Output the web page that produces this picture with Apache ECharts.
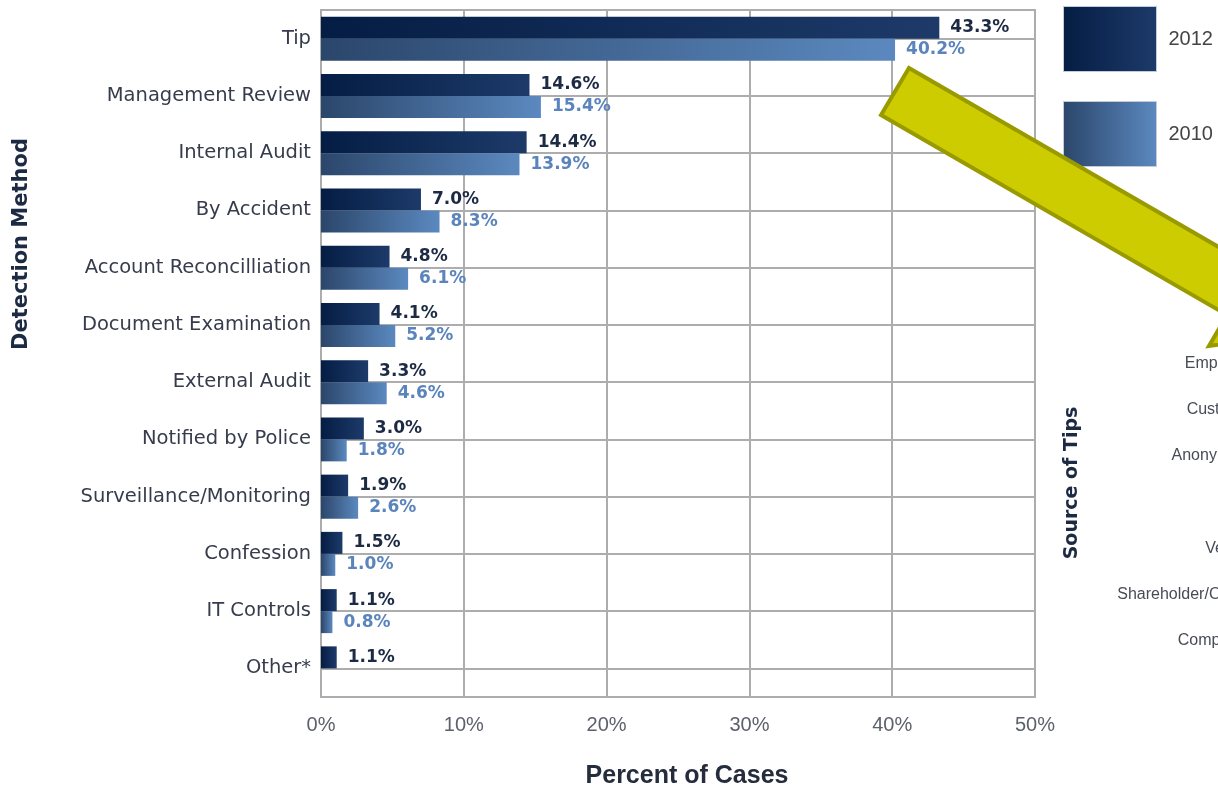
<!DOCTYPE html>
<html>
<head>
<meta charset="utf-8">
<script src="https://cdn.jsdelivr.net/npm/echarts@6/dist/echarts.min.js"></script>
<style>
  html, body { margin: 0; padding: 0; background: #fff; }
  #main { width: 1218px; height: 789px; }
</style>
</head>
<body>
<div id="main"></div>
<script>
// detection methods, top to bottom
var methods = ['Tip', 'Management Review', 'Internal Audit', 'By Accident',
  'Account Reconcilliation', 'Document Examination', 'External Audit',
  'Notified by Police', 'Surveillance/Monitoring', 'Confession', 'IT Controls', 'Other*'];
var cases2012 = [43.3, 14.6, 14.4, 7.0, 4.8, 4.1, 3.3, 3.0, 1.9, 1.5, 1.1, 1.1];
var cases2010 = [40.2, 15.4, 13.9, 8.3, 6.1, 5.2, 4.6, 1.8, 2.6, 1.0, 0.8, null];
// labels of the next chart, cut off at the right edge
var tipSources = ['Employee', 'Customer', 'Anonymous', '', 'Vendor', 'Shareholder/Owner', 'Competitor'];

var chart = echarts.init(document.getElementById('main'));

var dark = new echarts.graphic.LinearGradient(0, 0, 1, 0, [
  { offset: 0, color: '#041d44' }, { offset: 1, color: '#1d3a69' }
]);
var light = new echarts.graphic.LinearGradient(0, 0, 1, 0, [
  { offset: 0, color: '#2b466b' }, { offset: 1, color: '#5b89bf' }
]);

function pct(p) { return p.value.toFixed(1) + '%'; }

var option = {
  backgroundColor: '#ffffff',
  animation: false,
  legend: {
    data: ['2012', '2010'],
    orient: 'vertical',
    left: 1063,
    top: 6,
    padding: 0,
    icon: 'rect',
    itemWidth: 93,
    itemHeight: 65,
    itemGap: 29,
    itemStyle: { borderColor: '#c3cbd8', borderWidth: 1 },
    textStyle: { fontSize: 20, color: '#444', fontFamily: 'Liberation Sans', padding: [0, 0, 0, 7] }
  },
  grid: [
    {
      left: 321, right: 183, top: 10, bottom: 92,
      outerBoundsMode: 'none',
      show: true, borderColor: '#adadad', borderWidth: 2
    },
    { left: 1264, top: 340, width: 100, height: 324, outerBoundsMode: 'none' }
  ],
  xAxis: [
    {
      type: 'value', min: 0, max: 50, interval: 10,
      axisLine: { show: false },
      axisTick: { show: false },
      splitLine: { lineStyle: { color: '#adadad', width: 2 } },
      axisLabel: {
        formatter: '{value}%', margin: 18,
        fontSize: 20, color: '#5c616c', fontFamily: 'Liberation Sans'
      },
      name: 'Percent of Cases',
      nameLocation: 'middle',
      nameGap: 67,
      nameTextStyle: {
        fontSize: 25, fontWeight: 'bold', color: '#252c3c', fontFamily: 'Liberation Sans',
        padding: [0, 0, 0, 18]
      }
    },
    { type: 'value', gridIndex: 1, show: false }
  ],
  yAxis: [
    {
      type: 'category', data: methods, inverse: true,
      axisLine: { show: false },
      axisTick: { show: false },
      splitLine: { show: true, alignWithLabel: true, lineStyle: { color: '#adadad', width: 2 } },
      axisLabel: { margin: 10, fontSize: 19.5, color: '#363c4c', fontFamily: 'DejaVu Sans' }
    },
    {
      type: 'category', data: tipSources, inverse: true, gridIndex: 1,
      axisLine: { show: false },
      axisTick: { show: false },
      splitLine: { show: false },
      axisLabel: { margin: 8, fontSize: 16, color: '#474b56', fontFamily: 'Liberation Sans' }
    }
  ],
  graphic: [
    {
      type: 'text', x: 22, y: 244, rotation: Math.PI / 2,
      style: {
        text: 'Detection Method', font: 'bold 21px "DejaVu Sans"', fill: '#1d2a44',
        align: 'center', verticalAlign: 'middle'
      }
    },
    {
      type: 'text', x: 1072, y: 483, rotation: Math.PI / 2,
      style: {
        text: 'Source of Tips', font: 'bold 19px "DejaVu Sans"', fill: '#1d2a44',
        align: 'center', verticalAlign: 'middle'
      }
    },
    {
      // yellow call-out arrow
      type: 'polygon', z: 100,
      shape: {
        points: [[909, 68], [1255, 268], [1273, 237], [1311, 331],
                 [1209, 346], [1227, 315], [881, 115]]
      },
      style: { fill: '#cccc00', stroke: '#999900', lineWidth: 4, lineJoin: 'miter' }
    }
  ],
  series: [
    {
      name: '2012', type: 'bar', data: cases2012,
      barWidth: 22, barGap: '0%',
      itemStyle: { color: dark },
      label: {
        show: true, position: 'right', distance: 11, formatter: pct,
        fontSize: 17, fontWeight: 'bold', color: '#1d2a44', fontFamily: 'DejaVu Sans'
      }
    },
    {
      name: '2010', type: 'bar', data: cases2010,
      barWidth: 22, barGap: '0%',
      itemStyle: { color: light },
      label: {
        show: true, position: 'right', distance: 11, formatter: pct,
        fontSize: 17, fontWeight: 'bold', color: '#5a84bb', fontFamily: 'DejaVu Sans'
      }
    },
    { type: 'bar', xAxisIndex: 1, yAxisIndex: 1, data: [] }
  ]
};

chart.setOption(option);
</script>
</body>
</html>
